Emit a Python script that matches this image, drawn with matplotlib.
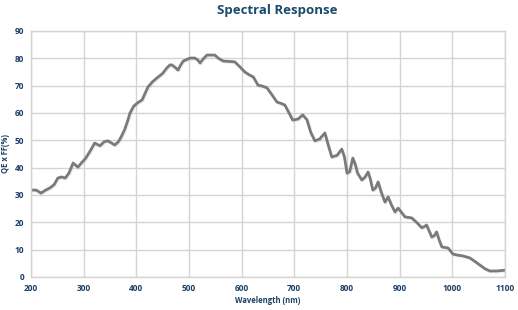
import matplotlib
matplotlib.use("Agg")
import matplotlib.pyplot as plt
import matplotlib.patheffects as pe

wavelength = [200, 210, 219, 228, 236, 244, 251, 258, 265, 272, 280, 289, 296, 304, 312,
              321, 331, 339, 346, 353, 359, 366, 371, 378, 384, 388, 395, 403, 411,
              422, 430, 439, 450, 458, 464, 467, 473, 479, 484, 489, 502, 511, 516,
              521, 527, 534, 549, 556, 565, 575, 587, 596, 606, 614, 622, 631, 640,
              648, 658, 667, 675, 682, 690, 697, 707, 716, 724, 731, 739, 748, 758,
              764, 771, 781, 790, 795, 800, 805, 811, 816, 820, 828, 834, 840, 844,
              849, 854, 859, 865, 872, 878, 884, 891, 897, 904, 910, 923, 932, 942,
              947, 951, 956, 961, 966, 970, 975, 980, 992, 1001, 1010, 1020, 1033,
              1042, 1052, 1062, 1071, 1085, 1100]
qe = [31.8, 31.8, 30.7, 31.8, 32.6, 33.8, 36.2, 36.6, 36.2, 38.0, 41.7, 40.2, 41.8, 43.5, 46.0,
      49.0, 48.0, 49.5, 49.8, 49.0, 48.3, 49.5, 51.2, 54.0, 57.4, 60.0, 62.5, 63.8, 64.8,
      69.5, 71.3, 72.8, 74.5, 76.5, 77.6, 77.6, 76.8, 75.7, 77.5, 79.0, 80.1, 80.1, 79.5,
      78.3, 79.8, 81.2, 81.2, 80.0, 79.0, 78.9, 78.7, 77.0, 75.0, 74.0, 73.2, 70.2, 69.8,
      69.2, 66.5, 64.0, 63.5, 62.9, 60.0, 57.4, 57.8, 59.3, 57.5, 53.0, 49.8, 50.5, 52.7,
      48.5, 43.9, 44.5, 46.8, 44.0, 38.0, 38.5, 43.5, 41.0, 38.0, 35.5, 36.5, 38.4, 36.0,
      31.8, 32.5, 34.8, 31.0, 27.4, 29.3, 26.5, 23.8, 25.2, 23.5, 22.0, 21.6, 20.0, 18.0,
      18.5, 19.0, 16.8, 14.6, 15.2, 16.5, 13.5, 11.0, 10.6, 8.4, 8.0, 7.7, 7.0,
      5.8, 4.4, 3.0, 2.2, 2.2, 2.5]

title_color = "#1b4a6b"
tick_color = "#1b3f66"
grid_color = "#d4d4d4"

fig = plt.figure(figsize=(5.18, 3.10), dpi=100)
ax = fig.add_axes([0.0598, 0.1065, 0.9152, 0.7935])

ax.plot(wavelength, qe, color="#7a7a7a", linewidth=2.0, solid_capstyle="round",
        solid_joinstyle="round",
        path_effects=[pe.SimpleLineShadow(offset=(0.6, -0.8), alpha=0.15, shadow_color="#888888"),
                      pe.Normal()])

ax.set_xlim(200, 1100)
ax.set_ylim(0, 90)
ax.set_xticks(range(200, 1101, 100))
ax.set_yticks(range(0, 91, 10))
ax.grid(True, color=grid_color, linewidth=1.0)
ax.set_axisbelow(True)
for s in ax.spines.values():
    s.set_color(grid_color)
    s.set_linewidth(1.0)
ax.tick_params(length=0, pad=5, labelsize=6, labelcolor=tick_color)
for lbl in ax.get_xticklabels() + ax.get_yticklabels():
    lbl.set_fontweight("bold")
    lbl.set_family("Open Sans")

ax.set_xlabel("Wavelength (nm)", fontsize=5.5, fontweight="bold", color=tick_color,
              family="Open Sans", labelpad=2)
ax.set_ylabel("QE x FF(%)", fontsize=5.5, fontweight="bold", color=tick_color,
              family="Open Sans", labelpad=3)
fig.text(0.535, 0.965, "Spectral Response", ha="center", va="center", fontsize=9.5,
         fontweight="bold", color=title_color, family="Open Sans")

fig.savefig("out.png", dpi=100, facecolor="white")
